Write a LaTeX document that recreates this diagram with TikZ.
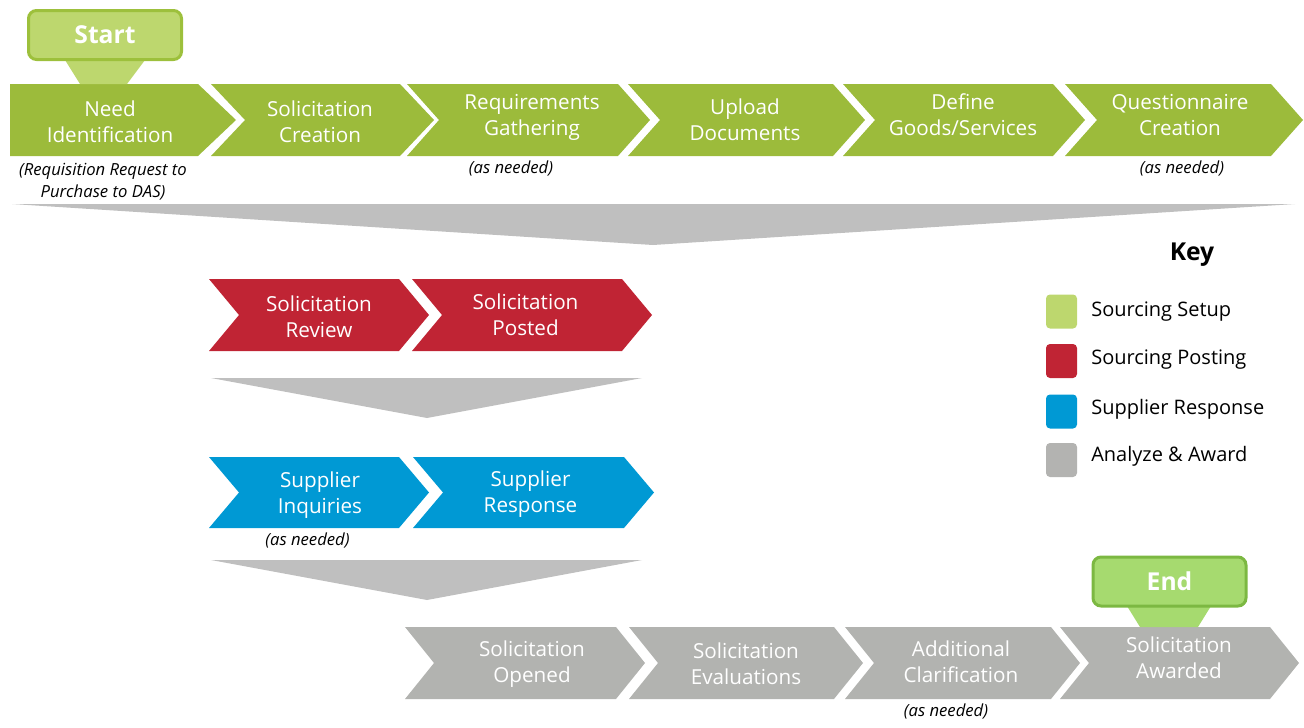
\documentclass[tikz,border=0pt]{standalone}
\usepackage{fontspec}
\setmainfont{Open Sans}
\definecolor{cgreen}{HTML}{9CBB3B}
\definecolor{cred}{HTML}{C02434}
\definecolor{cblue}{HTML}{0099D4}
\definecolor{cgray}{HTML}{B2B3B0}
\definecolor{cfunnel}{HTML}{BFBFBF}
\definecolor{startfill}{HTML}{BDD76E}
\definecolor{startline}{HTML}{9DC03C}
\definecolor{endfill}{HTML}{A6DA6F}
\definecolor{endline}{HTML}{7CB842}
\definecolor{keygray}{HTML}{B3B3B1}
\newcommand{\chev}[6]{%
  \fill[#6] (#1,#3) -- (#2,#3) -- ({#2+#5},{(#3+#4)/2}) -- (#2,#4) -- (#1,#4) -- ({#1+#5},{(#3+#4)/2}) -- cycle;}
\newcommand{\twol}[2]{\strut #1\\\strut #2}
\begin{document}
\begin{tikzpicture}[x=0.75pt,y=-0.75pt,
  lbl/.style={font=\fontsize{15.5}{19.8}\selectfont, text=white, align=center, inner sep=0pt},
  note/.style={font=\fontsize{12.5}{16.5}\selectfont\itshape, text=black, align=center, inner sep=0pt},
  keylbl/.style={font=\fontsize{15}{19.5}\selectfont, text=black, anchor=base west, inner sep=0pt},
  keysq/.style={rounded corners=3pt, minimum width=23.25pt, minimum height=25.5pt, inner sep=0pt},
  capbox/.style={rounded corners=6pt, line width=2.25pt, minimum width=114.75pt, minimum height=36.75pt, inner sep=0pt, text=white, font=\fontsize{18.5}{22}\selectfont\bfseries},
]
\useasboundingbox (0,0) rectangle (1304,728);

% ---- funnels
\fill[cfunnel] (12,204) -- (1295,204) -- (653,245) -- cycle;
\fill[cfunnel] (211,378) -- (642,378) -- (427,418) -- cycle;
\fill[cfunnel] (211,560) -- (642,560) -- (427,600) -- cycle;

% ---- row 1 (green)
\fill[cgreen] (10,84) -- (198,84) -- (236,120) -- (198,156) -- (10,156) -- cycle;
\chev{211}{400}{84}{156}{34}{cgreen}
\chev{407}{618}{84}{156}{32}{cgreen}
\chev{628}{833}{84}{156}{32}{cgreen}
\chev{843}{1053}{84}{156}{32}{cgreen}
\chev{1065}{1271}{84}{156}{32}{cgreen}

\node[lbl] (need) at (110,124) {\twol{Need}{Identification}};
\node[lbl] (screate) at (320,124) {\twol{Solicitation}{Creation}};
\node[lbl] (req) at (532,117) {\twol{Requirements}{Gathering}};
\node[lbl] (upload) at (745,122) {\twol{Upload}{Documents}};
\node[lbl] (define) at (963,117) {\twol{Define}{Goods/Services}};
\node[lbl] (quest) at (1180,117) {\twol{Questionnaire}{Creation}};

\node[note] (reqnote) at (103,181.6) {\strut(Requisition Request to\\\strut Purchase to DAS)};
\node[note, anchor=base] (asn1) at (511,173) {(as needed)};
\node[note, anchor=base] (asn2) at (1182,173) {(as needed)};

% ---- start
\fill[startfill] (65,60) -- (145,60) -- (127,84) -- (80,84) -- cycle;
\node[capbox, draw=startline, fill=startfill] (start) at (105,35) {Start};

% ---- row 2 (red)
\chev{209}{399}{279}{351}{30}{cred}
\chev{412}{622}{279}{351}{30}{cred}
\node[lbl] (review) at (319,319) {\twol{Solicitation}{Review}};
\node[lbl] (posted) at (525.5,317) {\twol{Solicitation}{Posted}};

% ---- row 3 (blue)
\chev{209}{399}{457}{528}{30}{cblue}
\chev{413}{624}{457}{528}{30}{cblue}
\node[lbl] (inq) at (320,495) {\twol{Supplier}{Inquiries}};
\node[lbl] (resp) at (530.5,494) {\twol{Supplier}{Response}};
\node[note, anchor=base] (asn3) at (307.5,545) {(as needed)};

% ---- row 4 (gray)
\chev{405}{616}{627}{699}{29}{cgray}
\chev{629}{834}{627}{699}{29}{cgray}
\chev{845}{1051}{627}{699}{29}{cgray}
\chev{1060}{1270}{627}{699}{29}{cgray}
\node[lbl] (opened) at (532,664) {\twol{Solicitation}{Opened}};
\node[lbl] (evals) at (746,666) {\twol{Solicitation}{Evaluations}};
\node[lbl] (clar) at (961,664) {\twol{Additional}{Clarification}};
\node[lbl] (award) at (1179,660) {\twol{Solicitation}{Awarded}};
\node[note, anchor=base] (asn4) at (946,716) {(as needed)};

% ---- end
\fill[endfill] (1127,606) -- (1211,606) -- (1198,627) -- (1140,627) -- cycle;
\node[capbox, draw=endline, fill=endfill] (end) at (1169.5,581.5) {End};

% ---- key
\node[font=\fontsize{18.5}{22}\selectfont\bfseries, inner sep=0pt] (key) at (1192,255) {Key};
\node[keysq, fill=startfill] (k1) at (1061.5,311.5) {};
\node[keysq, fill=cred] (k2) at (1061.5,361) {};
\node[keysq, fill=cblue] (k3) at (1061.5,411.5) {};
\node[keysq, fill=keygray] (k4) at (1061.5,460) {};
\node[keylbl] (kl1) at (1091,316) {Sourcing Setup};
\node[keylbl] (kl2) at (1091,364) {Sourcing Posting};
\node[keylbl] (kl3) at (1091,414) {Supplier Response};
\node[keylbl] (kl4) at (1091,461) {Analyze \& Award};
\end{tikzpicture}
\end{document}
